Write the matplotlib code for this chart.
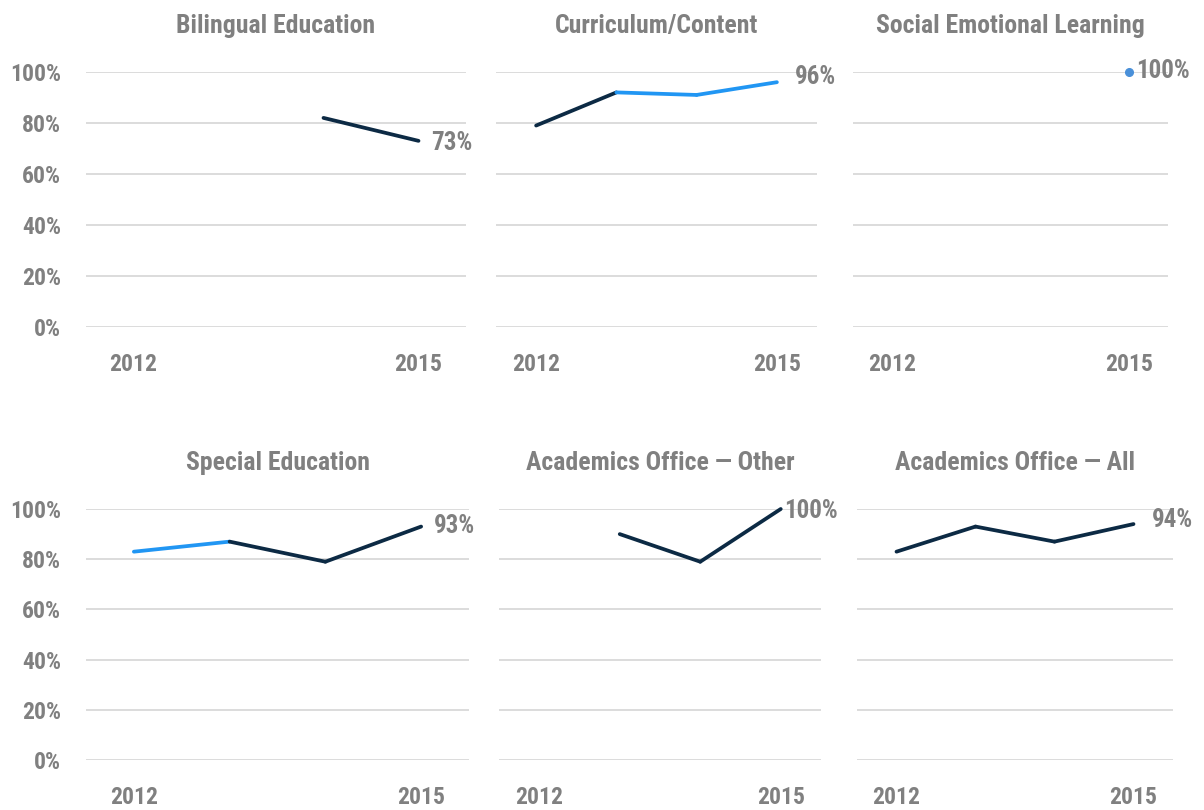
import numpy as np
import matplotlib
matplotlib.use('Agg')
from matplotlib import pyplot as plt

plt.rcParams['font.family'] = ['Roboto Condensed', 'Open Sans Condensed', 'Liberation Sans Narrow',
                               'Roboto', 'DejaVu Sans']
plt.rcParams['font.weight'] = 'bold'

years = [2012, 2013, 2014, 2015]
titles = ['Bilingual Education', 'Curriculum/Content', 'Social Emotional Learning',
          'Special Education', 'Academics Office \u2014 Other', 'Academics Office \u2014 All']

# nan = no data that year
bilingual = [np.nan, np.nan, 82, 73]
curriculum = [79, 92, 91, 96]
sel = [np.nan, np.nan, np.nan, 100]
special_ed = [83, 87, 79, 93]
acad_other = [np.nan, 90, 79, 100]
acad_all = [83, 93, 87, 94]
series = [bilingual, curriculum, sel, special_ed, acad_other, acad_all]

# colour of each segment between consecutive years ('d' dark, 'b' blue)
seg_colors = [
    ['d', 'd', 'd'],
    ['d', 'b', 'b'],
    ['b', 'b', 'b'],
    ['b', 'd', 'd'],
    ['d', 'd', 'd'],
    ['d', 'd', 'd'],
]

DARK = '#0c2a44'
BLUE = '#2196f3'
DOT = '#4a90d9'
GRAY = '#808080'
GRID = '#d9d9d9'
cmap = {'d': DARK, 'b': BLUE}

W, H = 1204, 810
fig = plt.figure(figsize=(W / 100, H / 100), dpi=100)

# axes extents in pixels: (left, right, y of 0%, y of 100%)
boxes = [
    (86, 466, 327, 72), (496, 817, 327, 72), (853, 1168, 327, 72),
    (86, 469, 760, 509), (499, 821, 760, 509), (857, 1173, 760, 509),
]
label_offsets = [(13, -2), (18, 5), (7, 1), (13, 1), (3, -2), (18, 4)]

for i, (l, r, y0, y1) in enumerate(boxes):
    ax = fig.add_axes([l / W, 1 - y0 / H, (r - l) / W, (y0 - y1) / H])
    vals = series[i]
    for k in range(3):
        a, b = vals[k], vals[k + 1]
        if np.isnan(a) or np.isnan(b):
            continue
        ax.plot(years[k:k + 2], [a, b], color=cmap[seg_colors[i][k]], lw=2.7,
                solid_capstyle='round', clip_on=False, zorder=3)
    valid = [j for j, v in enumerate(vals) if not np.isnan(v)]
    if len(valid) == 1:
        ax.plot([years[valid[0]]], [vals[valid[0]]], 'o', color=DOT, ms=5.5,
                clip_on=False, zorder=3)
    ax.set_xlim(2011.5, 2015.5)
    ax.set_ylim(0, 100)
    ax.set_yticks([0, 20, 40, 60, 80, 100])
    ax.grid(axis='y', color=GRID, lw=1.3)
    ax.set_axisbelow(True)
    for s in ax.spines.values():
        s.set_visible(False)
    ax.tick_params(length=0, colors=GRAY, labelsize=17)
    ax.set_xticks([2012, 2015])
    ax.set_xticklabels(['2012', '2015'])
    ax.tick_params(axis='x', pad=19)
    if i % 3 == 0:
        ax.set_yticklabels([f'{t}%' for t in [0, 20, 40, 60, 80, 100]])
        ax.tick_params(axis='y', pad=18)
    else:
        ax.set_yticklabels([])
    ax.set_title(titles[i], color=GRAY, fontsize=18.5, fontweight='bold', pad=28)
    last = vals[-1]
    dx, dy = label_offsets[i]
    ax.annotate(f'{last:.0f}%', (years[-1], last), xytext=(dx * 0.72, dy * 0.72),
                textcoords='offset points', ha='left', va='center',
                color=GRAY, fontsize=18, fontweight='bold', annotation_clip=False)

fig.savefig('out.png', dpi=100)
